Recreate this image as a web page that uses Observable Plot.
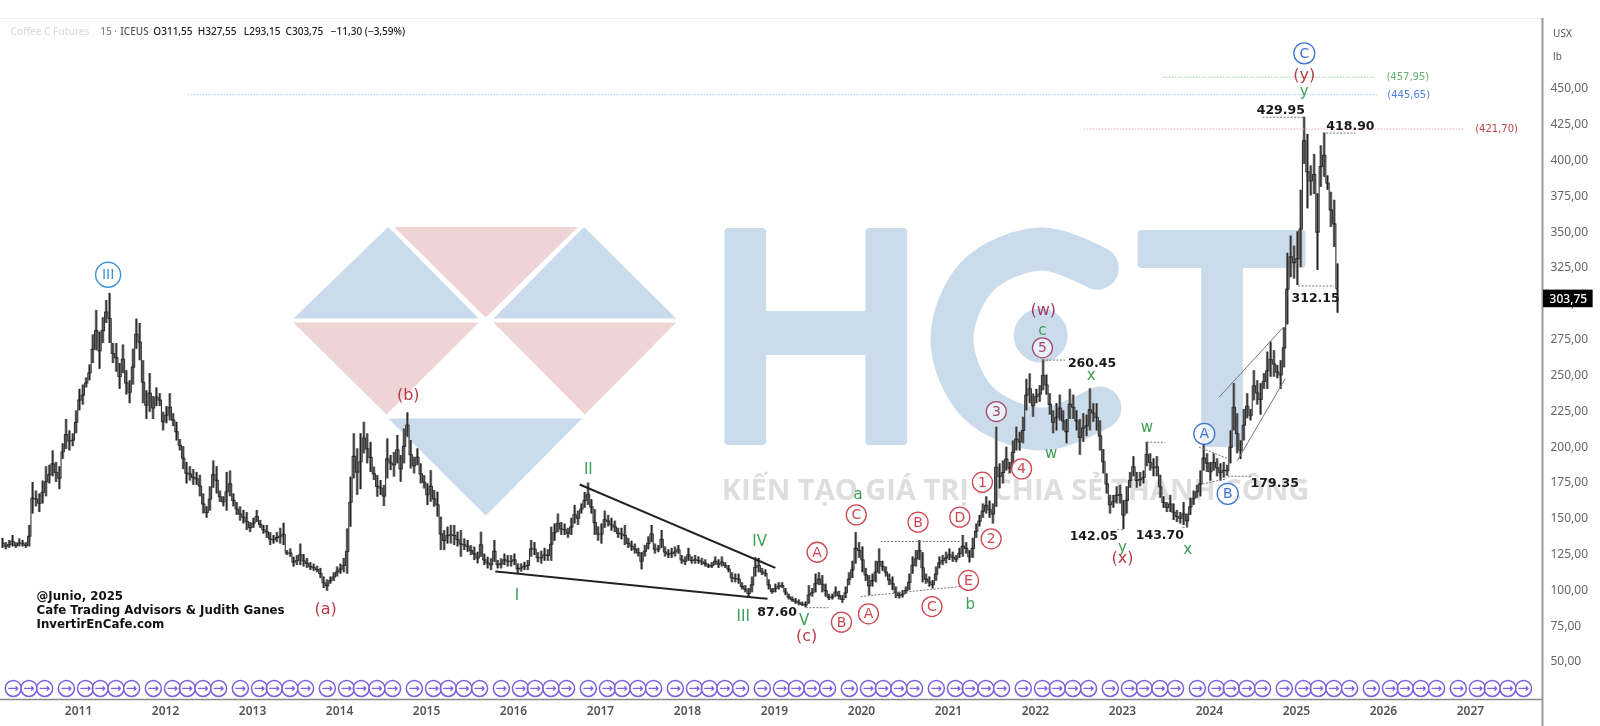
<!DOCTYPE html>
<html>
<head>
<meta charset="utf-8">
<style>
html,body{margin:0;padding:0;background:#fff;overflow:hidden}
svg{display:block;filter:blur(0.45px)}
</style>
<script src="https://cdn.jsdelivr.net/npm/d3@7"></script>
<script src="https://cdn.jsdelivr.net/npm/@observablehq/plot@0.6"></script>
</head>
<body>
<div id="chart"></div>
<script>
// ---- price bars: one every two weeks (high / low)
const firstBarYear = 2010.126;
const barsPerYear = 26;
const high = [
136,133,134.5,138,133,135.6,134.5,133,145,175,169,167,176,186,187,197,189,186,202,219,211,209,225,
240,243,248,257,278,295,280,290,302,307,272,272,258,271,253,246,268,289,286,260,239,251,235,241,237,224,
228,237,223,217,205,200,189,186,184,182,180,167,158,172,190,186,169,165,182,183,167,161,158,155.5,154,147,
150,155.5,148.5,145,145,140,138,140,143,146.5,127.5,128.6,122.8,124,132,124.7,122,119,118,116.5,115,109,
107,109,112,116,118,122,142.6,178.7,209,198.5,209,217,208.9,203,185.7,179.8,176.4,172.9,205.4,193.8,196,207.8,
193.8,212.4,223.6,204.3,192.6,198.5,188,179.8,174,183.3,169.4,168.2,150.8,141.4,143.8,145,145,140.3,141.4,135.6,
134.5,130.9,129.8,126.3,140.3,125,122.8,121.7,134.5,120.5,121.7,125,124,124,125,118.2,118.2,119.3,120.5,134.5,
133,126,127,129,128,143.8,146,153,147,146,143,150,159,155,160,168,174.6,163,156,144,146,155,152,150,148,143,
143,145,136,134,132,129,126,131,137,145,132,131,141.5,130,128,129,130,131,124,123,129,123,124,123,122,121,
118,119,123,121,123,119,117,112,111,111,105,103,101,109,122.4,122,115,114,107,101,104,105,105,101,97,95,94,93,
91.5,91.5,103,101,111,112,110,104,97,97,102,99,96,102,112,120,140,133,130,115,110,111,120,128.6,120,116,111,109,
102,98.4,99.5,102,111,123,127.5,134.4,126,111,109,106.5,116,123,124,126.3,128.6,126.3,124,129,138,133,127.5,136,
146,152,160,165,162,160,213.6,188,190,199.6,189,204,213.6,210,220.5,247,250.8,236.8,240,242.6,260.45,250,237,225,
230,236,225,219,240,236,225,219,223,222,240.4,230,230,218,198,181,166,166,172,173,162.4,172,182,193,182,182,183,
203,195,191.5,193,180,165,161,166,160,155.5,154,161,153,164,169,173,183,201,195,189,195,191.5,188,189,187,211,
244,223,204,226,237,226,253,246,244,251,266,273,267,256.7,260,283,335,347,340,350,379,429.95,418,396,404,376.5,
410,418.9,389,377.6,372,327.55
];
const low = [
129,128,129,130,129,130,130,129,130,153,158,154,160,165,174,179,175,170,191,198,197,200,209,
225,229,241,246,258,267,254,272,286,272,258,252,240,251,236,230,243,268,260,230,219,224,219,228,228,211,
216,218,214,204,197,184,174,176,173,173,165,153,150,155,171,167,161,158,155,165,158,152,148,146,141.5,140,
143,147,143,139,136,131,132,133,132,131,124,122.8,116,117,117,116,115,113.5,113,112,108,101,
99,104,106,109,111,112,111,143.8,177.5,166,170,195,188,182,176.4,164.7,165.9,158.2,177.5,183.3,178.7,188,
175.2,188,206.6,184.5,181,186.8,174,170.5,158.9,161.2,157.7,150.8,127.5,127.5,132,132,131,130,122.8,127.5,
126.3,124,120.5,118.2,122.8,117,114.7,113.5,119.3,114.7,114.7,117,116,116,117,111.2,112.4,113.5,113.5,122.9,
124,119,118,120,120,120,134,140,138,138,136,138,146,145,153,157,159,153,138,134,132,143,144,141,140,136,
135,131,129,127,125,123,114,123,128,133,125,126,129,123,122,122,123,125,118,117,120,118,118,118,117,116,
115,115,117,115,116,115,112,105,105,104,100,98,94,98,109,112,110,109,100,97,98,100,101,96,93,91.5,90,89,
88.5,87.6,90,95,98,103,98,95,92.6,93,95,93,90.7,94,103,108,118,122,112,106,96,102,105,111,113,109,103,99.5,
94,93.7,94.4,97,99.5,111,116,120.5,105,104,102,100.7,106,114.7,117,118.2,120.5,119.3,119,122,122.8,125,118.8,122,
136,144,150,153,150,146,157.7,170.5,174,183,181,188,197,197,202,225,230,220.5,230,231,239,236,222,209,
211,218,211,202,219,219,211,194,203,207,211,217,211,197,181,167,153,157,160,160,142.05,153,171,179,171,172,174,
186,183,179,179,164,157,154,154,148.5,147,146,145,143.7,152,159,164,165,183,182,176,183,179,176,178,179.35,188,
211,195,191,204,219.5,218,232,229,222,240,240,248.5,248.5,247.4,240,255,285,318,317,312.5,325,397,366,375,376,323,
381,388,379,353,339,293.15
];

// ---- axes
const yearTicks = [2011,2012,2013,2014,2015,2016,2017,2018,2019,2020,2021,2022,2023,2024,2025,2026,2027];
const priceTicks = [50,75,100,125,150,175,200,225,250,275,300,325,350,375,400,425,450];
const lastPrice = 303.75;

// ---- contract roll markers, five each year
const rollYears = [2010,2011,2012,2013,2014,2015,2016,2017,2018,2019,2020,2021,2022,2023,2024,2025,2026,2027];
const rollFractions = [0.08,0.25,0.43,0.61,0.86];
const rollPrice = 31.2;

// ---- wave labels: [text, year, price]
const blueCircled = [["C",2025.09,474.6],["A",2023.94,209],["B",2024.21,167.1]];
const redCircled = [["A",2019.49,126.3],["B",2019.77,77.5],["A",2020.08,83.3],["C",2019.94,152.4],["B",2020.65,147.3],
  ["C",2020.81,88.4],["D",2021.13,150.8],["E",2021.23,106.6],["1",2021.39,175.2],["2",2021.49,135.7],["4",2021.84,184.5]];
const maroonCircled = [["3",2021.55,224.5],["5",2022.08,269]];
const greenWaves = [["I",2016.04,96.6],["II",2016.86,184.5],["III",2018.64,81.5],["IV",2018.83,133.8],["V",2019.34,78.7],
  ["a",2019.96,167.1],["b",2021.25,89.8],["c",2022.08,281.6],["w",2022.18,195.7],["x",2022.64,249.7],["w",2023.28,213.6],
  ["y",2023.0,129.8],["x",2023.75,128.4],["y",2025.09,447.9]];
const redWaves = [["(a)",2013.84,87],["(b)",2014.79,236.4],["(c)",2019.37,68.2],["(x)",2023.0,122.6],["(y)",2025.09,459.6]];
const maroonWaves = [["(w)",2022.09,295.5]];
const priceLabels = [["87.60",2019.03,84.5],["260.45",2022.65,258.3],["142.05",2022.67,137.5],["143.70",2023.43,138],
  ["179.35",2024.75,174.8],["312.15",2025.22,303.6],["429.95",2024.82,435.1],["418.90",2025.62,423.7]];
const creditLines = [["@Junio, 2025",2010.517,95.4],["Cafe Trading Advisors & Judith Ganes",2010.517,86],["InvertirEnCafe.com",2010.517,76]];

// ---- projection levels
const levelPrices = [457.95,445.65,421.70];
const levelFrom = [2023.47,2012.26,2022.56];
const levelTo = [2025.92,2025.94,2026.94];
const levelColors = ["#93cc93","#a9c4ee","#eda6ad"];
const levelTextColors = ["#62b36c","#4f7fe0","#c2404c"];
const levelLabels = ["(457,95)","(445,65)","(421,70)"];
const levelLabelYears = [2026.28,2026.29,2027.3];

// ---- short dotted pointers: [year1, price1, year2, price2]
const dotted = [[2024.61,429.95,2025.10,429.95],[2025.3,418.9,2025.68,418.9],[2025.02,312.15,2025.43,312.15],
  [2022.08,260.45,2022.34,260.45],[2024.21,179.35,2024.49,179.35],[2019.36,87.6,2019.62,87.6],[2022.94,142.05,2023.01,142.05],
  [2023.69,143.7,2023.76,143.7],[2023.28,203.1,2023.49,203.1],[2020.22,133.8,2021.14,133.8],[2019.99,95.4,2021.14,102.4],
  [2023.88,199.6,2024.22,191.5],[2023.92,174,2024.2,177.6]];
const channels = [[2024.11,234.5,2024.85,283.4],[2024.32,190.3,2024.87,247.4]];
const wedge = [[2016.76,173.6,2019.01,115.4],[2015.79,112.9,2018.92,93.8]];

// ---- header
const headerCells = [["Coffee C Futures",2010.218,"#dcdcdc"],["15 ·",2011.25,"#888"],["ICEUS",2011.48,"#555"],["O311,55",2011.86,"#222"],
  ["H327,55",2012.37,"#222"],["L293,15",2012.90,"#222"],["C303,75",2013.38,"#222"],["−11,30 (−3,59%)",2013.90,"#222"]];
const headerPrice = 489.8;

// ---- background watermark: logo triangles, letters and slogan, in chart units
const logoBlue = [[[2013.47,289.4],[2014.56,353.4],[2015.60,289.4]],[[2015.77,289.4],[2016.81,353.4],[2017.87,289.4]],
  [[2014.56,219.6],[2016.79,219.6],[2015.68,151.9]]];
const logoPink = [[[2014.63,353.4],[2016.74,353.4],[2015.68,290.1]],[[2013.47,286.7],[2015.60,286.7],[2014.54,222.4]],
  [[2015.77,286.7],[2017.87,286.7],[2016.82,222.4]]];
const letterBlocks = [[2018.43,2018.91,200.8,352.3],[2020.05,2020.53,200.8,352.3],[2023.18,2025.11,324.3,350.9],[2023.91,2024.39,199.4,330]];
const letterBars = [[2018.85,2020.1,263.6,294.3]];
const letterArc = [[2022.71,324.6],[2022.07,338],[2021.34,319.5],[2021.04,275.1],[2021.34,230.7],[2022.07,212.3],[2022.74,227]];
const letterDot = [[2022.06,277.6]];
const slogan = "KIẾN TẠO GIÁ TRỊ - CHIA SẺ THÀNH CÔNG";

// ---- tables
const bars = high.map((h, i) => ({year: firstBarYear + i / barsPerYear, high: h, low: low[i]}));
const rolls = rollYears.flatMap(y => rollFractions.map(f => ({year: y + f}))).filter(d => d.year > 2010.11 && d.year < 2027.8);
const polys = list => list.flatMap((t, id) => t.map(([x, y]) => ({id, x, y})));
const levels = levelPrices.map((p, i) => ({p, from: levelFrom[i], to: levelTo[i], c: levelColors[i], t: levelTextColors[i], l: levelLabels[i], ly: levelLabelYears[i]}));

const blue = "#cadbeb", pink = "#eed4d4";
const font = "DejaVu Sans";
const label = (rows, fill, size, extra = {}) => Plot.text(rows, {x: d => d[1], y: d => d[2], text: d => d[0], fill, fontSize: size, fontFamily: font, ...extra});
const circled = (rows, color, r) => [
  Plot.dot(rows, {x: d => d[1], y: d => d[2], r, stroke: color, strokeWidth: 1.3, fill: "#fff", fillOpacity: 0.6}),
  label(rows, color, 14)
];
const seg = (rows, o) => Plot.link(rows, {x1: d => d[0], y1: d => d[1], x2: d => d[2], y2: d => d[3], markerEnd: "none", ...o});

const chart = Plot.plot({
  width: 1600, height: 726,
  marginLeft: 0, marginRight: 58, marginTop: 18, marginBottom: 27,
  style: {background: "#fff", fontFamily: "Noto Sans"},
  x: {domain: [2010.103, 2027.828]},
  y: {domain: [23.5, 498.9]},
  marks: [
    // watermark
    Plot.line(polys(logoBlue), {x: "x", y: "y", z: "id", fill: blue, stroke: null}),
    Plot.line(polys(logoPink), {x: "x", y: "y", z: "id", fill: pink, stroke: null}),
    Plot.rect(letterBlocks, {x1: d => d[0], x2: d => d[1], y1: d => d[2], y2: d => d[3], fill: blue, rx: 4}),
    Plot.rect(letterBars, {x1: d => d[0], x2: d => d[1], y1: d => d[2], y2: d => d[3], fill: blue}),
    Plot.line(letterArc, {x: d => d[0], y: d => d[1], stroke: blue, strokeWidth: 43, curve: "catmull-rom"}),
    Plot.dot(letterDot, {x: d => d[0], y: d => d[1], r: 27, fill: blue}),
    Plot.text([slogan], {x: 2021.77, y: 169.4, text: d => d, fill: "#dedede", fontSize: 29, fontWeight: 700, fontFamily: "Open Sans"}),

    // frame
    Plot.ruleY([498.9], {stroke: "#eeeeee"}),
    Plot.ruleY([23.5], {stroke: "#8a8a8a", strokeWidth: 1.4}),
    Plot.ruleX([2027.828], {stroke: "#9a9a9a", strokeWidth: 2, y1: 4.6, y2: 498.9}),
    Plot.axisX(yearTicks, {anchor: "bottom", tickSize: 0, tickPadding: 7, tickFormat: d => String(d), label: null, fill: "#555", fontSize: 12, fontWeight: 600}),
    Plot.axisY(priceTicks, {anchor: "right", tickSize: 0, tickPadding: 8, tickFormat: d => d3.format(".2f")(d).replace(".", ","), label: null, fill: "#666", fontSize: 12}),

    // price bars
    Plot.ruleX(bars, {x: "year", y1: "low", y2: "high", stroke: "#808080", strokeWidth: 2.8}),
    Plot.line(bars, {x: "year", y: d => (d.high + d.low) / 2, curve: "step", stroke: "#333", strokeWidth: 1.1}),
    Plot.ruleX(bars, {x: "year", y1: "low", y2: "high", stroke: "#222", strokeWidth: 1}),

    // levels
    Plot.ruleY(levels, {y: "p", x1: "from", x2: "to", stroke: "c", strokeWidth: 1, strokeDasharray: "1.5 1.5"}),
    Plot.text(levels, {x: "ly", y: "p", text: "l", fill: "t", fontSize: 10, fontFamily: font}),

    // pointers, wedge and channels
    seg(dotted, {stroke: "#777", strokeWidth: 1, strokeDasharray: "2 1.5"}),
    seg(channels, {stroke: "#777", strokeWidth: 1}),
    seg(wedge, {stroke: "#222", strokeWidth: 2}),

    // contract rolls
    Plot.dot(rolls, {x: "year", y: rollPrice, r: 8, stroke: "#7a5fe0", strokeWidth: 1.5, fill: "#fff", fillOpacity: 0.5}),
    Plot.vector(rolls, {x: "year", y: rollPrice, length: 9, rotate: 90, anchor: "middle", stroke: "#7a5fe0", strokeWidth: 1.3}),

    // wave labels
    Plot.dot([["III",2011.34,320]], {x: d => d[1], y: d => d[2], r: 12.5, stroke: "#3f93d6", strokeWidth: 1.4, fill: "#fff"}),
    label([["III",2011.34,320]], "#3f93d6", 14),
    ...circled(blueCircled, "#3f72cf", 10.5),
    ...circled(redCircled, "#cf4650", 10),
    ...circled(maroonCircled, "#a54a72", 10),
    label(greenWaves, "#3d9e54", 15),
    label(redWaves, "#b93a46", 16),
    label(maroonWaves, "#a03a62", 16),
    label(priceLabels, "#1a1a1a", 12.5, {fontWeight: 700, letterSpacing: 0.6}),
    label(creditLines, "#111", 11.8, {textAnchor: "start", fontWeight: 700}),

    // header
    Plot.text(headerCells, {x: d => d[1], y: headerPrice, text: d => d[0], fill: d => d[2], fontSize: 10, textAnchor: "start", fontFamily: "Noto Sans", fontWeight: 500}),

    // scale unit and last price tag
    Plot.text([["USX",2027.95,488.4],["lb",2027.95,472.3]], {x: d => d[1], y: d => d[2], text: d => d[0], fill: "#555", fontSize: 10, textAnchor: "start", fontFamily: "Noto Sans"}),
    Plot.rect([lastPrice], {x1: 2027.84, x2: 2028.41, y1: 297, y2: 309.3, fill: "#000"}),
    Plot.text([lastPrice], {x: 2028.125, y: 303, text: d => d3.format(".2f")(d).replace(".", ","), fill: "#fff", fontSize: 12, fontFamily: "Noto Sans", fontWeight: 500})
  ]
});
document.getElementById("chart").appendChild(chart);
</script>
</body>
</html>
